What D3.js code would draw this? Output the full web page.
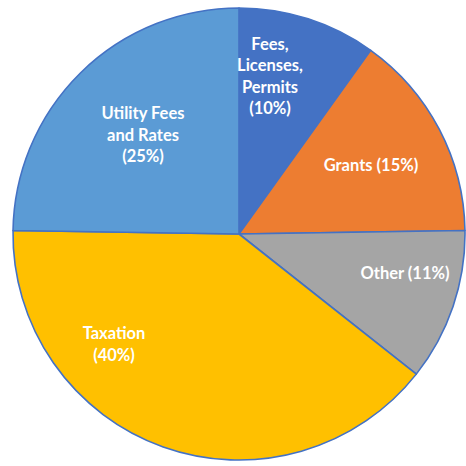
<!DOCTYPE html>
<html>
<head>
<meta charset="utf-8">
<script src="https://cdn.jsdelivr.net/npm/d3@7"></script>
<style>
  html, body { margin: 0; padding: 0; background: #ffffff; }
  svg { display: block; }
</style>
</head>
<body>
<svg id="chart" width="466" height="466"></svg>
<script>
// Revenue sources, clockwise from 12 o'clock
const categories = ["Fees, Licenses, Permits", "Grants", "Other", "Taxation", "Utility Fees and Rates"];
const shares = [10, 15, 11, 40, 25];
const labelLines = [
  ["Fees,", "Licenses,", "Permits", "(10%)"],
  ["Grants (15%)"],
  ["Other (11%)"],
  ["Taxation", "(40%)"],
  ["Utility Fees", "and Rates", "(25%)"]
];
const colors = ["#4472C4", "#ED7D31", "#A5A5A5", "#FFC000", "#5B9BD5"];

// Label anchor offsets from the pie centre (layout only)
const labelOffsets = [[31, -158], [132, -69], [166, 39], [-125, 110], [-96, -99]];

const svg = d3.select("#chart");
const cx = 239, cy = 234, radius = 226;
const g = svg.append("g").attr("transform", `translate(${cx},${cy})`);

const pie = d3.pie().sort(null).value(d => d.value);
const arc = d3.arc().innerRadius(0).outerRadius(radius);

const data = categories.map((c, i) => ({ name: c, value: shares[i], i }));
const arcs = pie(data);

g.selectAll("path.slice")
  .data(arcs)
  .join("path")
  .attr("class", "slice")
  .attr("d", arc)
  .attr("fill", d => colors[d.data.i])
  .attr("stroke", "#4472C4")
  .attr("stroke-width", 1.6)
  .attr("stroke-linejoin", "round");

const lineH = 21.5;
const labels = g.selectAll("text.label")
  .data(arcs)
  .join("text")
  .attr("class", "label")
  .attr("text-anchor", "middle")
  .attr("fill", "#ffffff")
  .attr("font-family", "Lato, 'Open Sans', sans-serif")
  .attr("font-weight", "bold")
  .attr("font-size", 16.5)
  .attr("transform", d => {
    const o = labelOffsets[d.data.i];
    return `translate(${o[0]},${o[1]})`;
  });

labels.each(function(d) {
  const lines = labelLines[d.data.i];
  const t = d3.select(this);
  const y0 = -((lines.length - 1) * lineH) / 2;
  lines.forEach((ln, k) => {
    t.append("tspan")
      .attr("x", 0)
      .attr("y", y0 + k * lineH)
      .attr("dy", "0.35em")
      .text(ln);
  });
});
</script>
</body>
</html>
